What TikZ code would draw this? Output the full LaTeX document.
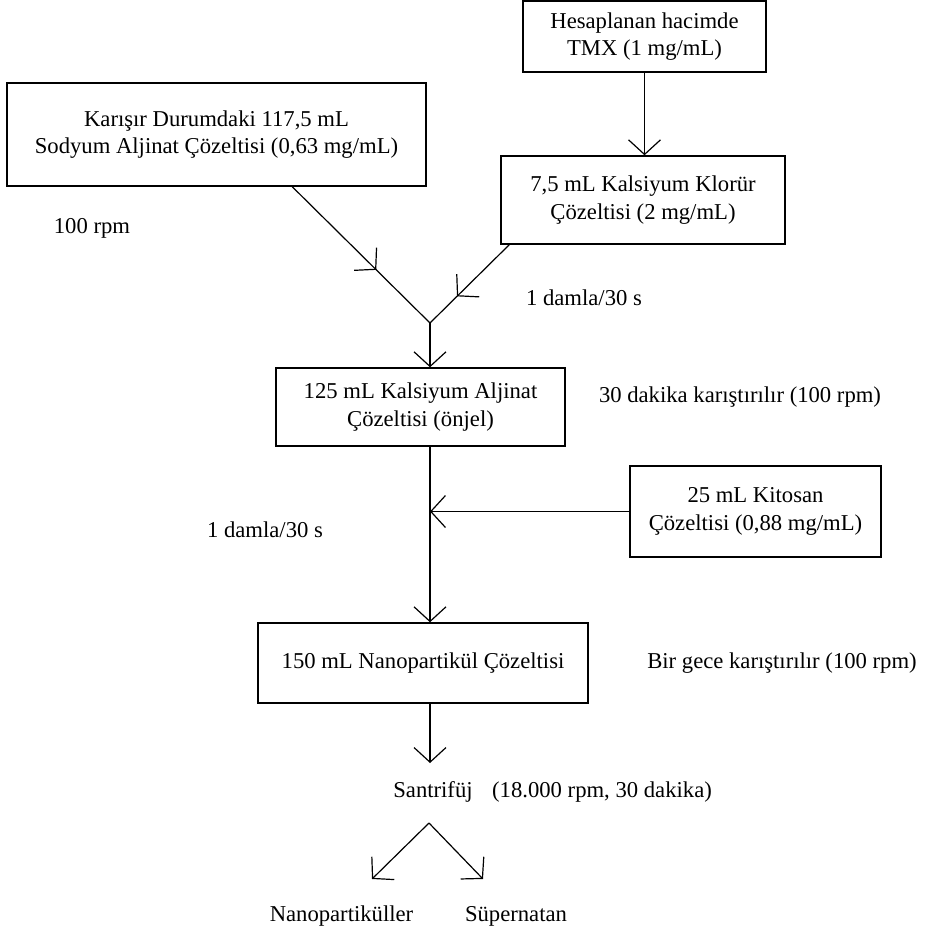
\documentclass[tikz,border=0pt]{standalone}
\usepackage{fontspec}
\setmainfont{Liberation Serif}
\usetikzlibrary{calc, positioning, arrows.meta, decorations.markings}

\begin{document}
\begin{tikzpicture}[x=0.75pt, y=-0.75pt,
  every node/.style={font=\fontsize{17}{20.5}\selectfont},
  kutu/.style={rectangle, draw, line width=1.1pt, align=center, inner sep=0pt},
  ok/.style={-{Straight Barb[length=11pt, width=24pt]}, line width=0.9pt},
  ortaok/.style={line width=0.9pt, postaction={decorate},
                 decoration={markings,
                   mark=at position #1 with {\arrow{Straight Barb[length=11pt, width=24pt]}}}},
  etiket/.style={inner sep=0pt}
]
\useasboundingbox (0,0) rectangle (926,933);

%% --- KUTULAR ---
\node[kutu, minimum width=182.25pt, minimum height=53.25pt] (tmx) at (644.5, 36.5)
  {Hesaplanan hacimde\\TMX (1 mg/mL)};
\node[kutu, minimum width=314.25pt, minimum height=77.25pt] (karisir) at (216.5, 134.5)
  {Karışır Durumdaki 117,5 mL\\Sodyum Aljinat Çözeltisi (0,63 mg/mL)};
\node[kutu, minimum width=213pt, minimum height=66pt] (cacl) at (643, 200)
  {7,5 mL Kalsiyum Klorür\\Çözeltisi (2 mg/mL)};
\node[kutu, minimum width=216.75pt, minimum height=58.5pt] (onjel) at (420.5, 407)
  {125 mL Kalsiyum Aljinat\\Çözeltisi (önjel)};
\node[kutu, minimum width=188.25pt, minimum height=68.25pt] (kitosan) at (755.5, 511.5)
  {25 mL Kitosan\\Çözeltisi (0,88 mg/mL)};
\node[kutu, minimum width=247.5pt, minimum height=60pt] (nano) at (423, 663)
  {150 mL Nanopartikül Çözeltisi};

%% --- NOKTALAR ---
\coordinate (bir) at (430, 323);
\coordinate (sant) at (430, 763);
\coordinate (ayr) at (429, 823);
\coordinate (sol) at (372, 879);
\coordinate (sag) at (483, 879);

%% --- OKLAR ---
\draw[ok] (tmx.south) -- (tmx.south |- cacl.north);
\draw[ortaok=0.61] ($(karisir.south west)+(286,0)$) -- (bir);
\draw[ortaok=0.66] ($(cacl.south west)+(9,0)$) -- (bir);
\draw[ok] (bir) -- (bir |- onjel.north);
\draw[ok] (bir |- onjel.south) -- (bir |- nano.north);
\draw[ok] (kitosan.west) -- (bir |- kitosan.west);
\draw[ok] (bir |- nano.south) -- (sant);
\draw[ok] (ayr) -- (sol);
\draw[ok] (ayr) -- (sag);

%% --- ETIKETLER ---
\node[etiket] (rpm) at (92, 228) {100 rpm};
\node[etiket] (damla1) at (584, 298) {1 damla/30 s};
\node[etiket] (kar1) at (740, 397) {30 dakika karıştırılır (100 rpm)};
\node[etiket] (damla2) at (265, 530) {1 damla/30 s};
\node[etiket] (kar2) at (782, 663) {Bir gece karıştırılır (100 rpm)};
\node[etiket] (santrifuj) at (433, 792) {Santrifüj};
\node[etiket] (kosul) at (602, 792) {(18.000 rpm, 30 dakika)};
\node[etiket] (np) at (341.5, 916) {Nanopartiküller};
\node[etiket] (sup) at (516, 916) {Süpernatan};

\end{tikzpicture}
\end{document}
